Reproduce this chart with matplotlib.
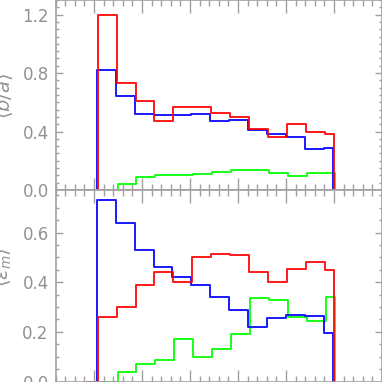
import matplotlib
matplotlib.use("Agg")
import matplotlib.pyplot as plt
import numpy as np
from matplotlib.ticker import MultipleLocator

# bin centres (steps drawn IDL psym=10 style)
xc = [0.88, 1.28, 1.67, 2.06, 2.46, 2.85, 3.25, 3.64, 4.03, 4.43, 4.82, 5.22, 5.61, 6.00]

# top panel
red_top = [0, 1.20, 0.73, 0.61, 0.47, 0.57, 0.57, 0.53, 0.50, 0.42, 0.36, 0.45, 0.40, 0.38]
blue_top = [0, 0.82, 0.64, 0.52, 0.51, 0.51, 0.52, 0.47, 0.48, 0.41, 0.385, 0.36, 0.28, 0.29]
green_top = [0, 0, 0.04, 0.09, 0.10, 0.10, 0.11, 0.125, 0.137, 0.137, 0.118, 0.098, 0.114, 0.114]

# bottom panel
red_bot = [0, 0.26, 0.30, 0.39, 0.44, 0.40, 0.50, 0.515, 0.51, 0.44, 0.40, 0.455, 0.48, 0.45]
blue_bot = [0, 0.73, 0.64, 0.53, 0.46, 0.42, 0.39, 0.34, 0.29, 0.22, 0.255, 0.27, 0.265, 0.195]
green_bot = [0, 0, 0.04, 0.07, 0.086, 0.17, 0.10, 0.133, 0.19, 0.335, 0.33, 0.26, 0.245, 0.34]

ylab_top = r"$\langle b/a\rangle$"
ylab_bot = r"$\langle \epsilon_m\rangle$"

gray = "#a0a0a0"
tcol = "#929292"

fig = plt.figure(figsize=(3.82, 3.82), dpi=100)
left, width = 0.1455, 0.8545
ax1 = fig.add_axes([left, 0.5026, width, 0.4974])
ax2 = fig.add_axes([left, 0.0013, width, 0.5013])


def hist(ax, y, color, dx):
    x = np.array(xc + [xc[-1]]) + dx
    yy = np.array(y + [0])
    ax.plot(x, yy, drawstyle="steps-mid", color=color, lw=1.4, alpha=0.9)


for ax, r, b, g, ymax, maj in [(ax1, red_top, blue_top, green_top, 1.3, 0.4),
                               (ax2, red_bot, blue_bot, green_bot, 0.772, 0.2)]:
    hist(ax, g, "#00ff00", 0.02)
    hist(ax, b, "#0000ff", -0.02)
    hist(ax, r, "#ff0000", 0.0)
    ax.set_xlim(0.2, 7.0)
    ax.set_ylim(0, ymax)
    ax.xaxis.set_major_locator(MultipleLocator(1))
    ax.xaxis.set_minor_locator(MultipleLocator(0.2))
    ax.yaxis.set_major_locator(MultipleLocator(maj))
    ax.yaxis.set_minor_locator(MultipleLocator(0.05))
    ax.tick_params(axis="both", which="both", direction="in", top=True, right=True,
                   colors=gray, labelcolor=tcol, labelsize=12, width=1.0)
    ax.tick_params(axis="x", which="major", length=9)
    ax.tick_params(axis="x", which="minor", length=4.5)
    ax.tick_params(axis="y", which="major", length=5, pad=5)
    ax.tick_params(axis="y", which="minor", length=2.5)
    ax.tick_params(axis="x", labelbottom=False)
    for s in ax.spines.values():
        s.set_color(gray)
        s.set_linewidth(1.2)
    ax.yaxis.set_major_formatter(matplotlib.ticker.FormatStrFormatter("%.1f"))

fig.text(0.010, 0.75, ylab_top, rotation=90, color=tcol, fontsize=14,
         ha="center", va="center")
fig.text(0.010, 0.30, ylab_bot, rotation=90, color=tcol, fontsize=14,
         ha="center", va="center")

fig.savefig("out.png", dpi=100)
